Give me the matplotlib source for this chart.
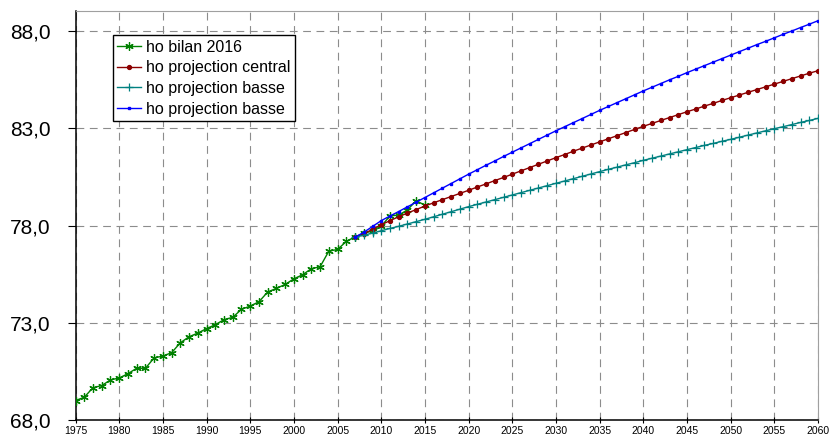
import matplotlib.pyplot as plt
from matplotlib.ticker import FuncFormatter

# ================================
# Data
# ================================
years_bilan = list(range(1975, 2016))
ho_bilan = [69.00, 69.17, 69.66, 69.77, 70.06, 70.16, 70.38, 70.66, 70.66, 71.19,
            71.29, 71.46, 71.97, 72.28, 72.47, 72.70, 72.90, 73.16, 73.28, 73.69,
            73.86, 74.08, 74.58, 74.77, 74.97, 75.26, 75.47, 75.78, 75.88, 76.68,
            76.77, 77.18, 77.42, 77.59, 77.73, 77.97, 78.49, 78.54, 78.80, 79.28,
            79.04]

years_proj = list(range(2007, 2061))
ho_central = [77.40, 77.58, 77.80, 78.04, 78.25, 78.45, 78.64, 78.82, 79.00, 79.17,
              79.33, 79.49, 79.65, 79.81, 79.98, 80.14, 80.31, 80.47, 80.64, 80.81,
              80.98, 81.15, 81.32, 81.49, 81.65, 81.82, 81.98, 82.14, 82.30, 82.46,
              82.62, 82.78, 82.94, 83.10, 83.25, 83.40, 83.55, 83.70, 83.85, 83.99,
              84.14, 84.28, 84.43, 84.57, 84.71, 84.85, 84.99, 85.13, 85.27, 85.41,
              85.55, 85.69, 85.83, 85.96]
ho_basse = [77.40, 77.50, 77.61, 77.73, 77.85, 77.96, 78.08, 78.20, 78.32, 78.45,
            78.58, 78.71, 78.84, 78.97, 79.09, 79.21, 79.33, 79.45, 79.57, 79.69,
            79.81, 79.93, 80.05, 80.17, 80.29, 80.41, 80.53, 80.65, 80.77, 80.89,
            81.00, 81.12, 81.23, 81.35, 81.46, 81.57, 81.68, 81.79, 81.90, 82.01,
            82.12, 82.22, 82.33, 82.43, 82.54, 82.65, 82.76, 82.87, 82.98, 83.08,
            83.19, 83.30, 83.40, 83.51]
ho_haute = [77.40, 77.65, 77.95, 78.25, 78.49, 78.72, 78.96, 79.20, 79.44, 79.68,
            79.92, 80.16, 80.40, 80.64, 80.87, 81.10, 81.32, 81.55, 81.77, 81.99,
            82.21, 82.43, 82.65, 82.87, 83.08, 83.29, 83.50, 83.71, 83.92, 84.12,
            84.32, 84.52, 84.72, 84.92, 85.11, 85.30, 85.49, 85.67, 85.86, 86.04,
            86.22, 86.40, 86.58, 86.76, 86.94, 87.12, 87.30, 87.47, 87.65, 87.83,
            88.00, 88.18, 88.35, 88.53]

x_ticks = list(range(1975, 2061, 5))
y_ticks = [68, 73, 78, 83, 88]

# ================================
# Plot
# ================================
plt.rcParams['font.family'] = ['Liberation Sans', 'DejaVu Sans']

fig = plt.figure(figsize=(8.3, 4.41), dpi=100)
ax = fig.add_axes([75.5 / 830, 1 - 420 / 441, (818 - 75.5) / 830, (420 - 11) / 441])

ax.plot(years_bilan, ho_bilan, color='#008000', lw=1.0, marker=(6, 2, 0),
        markersize=6, markeredgewidth=0.9, label='ho bilan 2016', zorder=3)
ax.plot(years_proj, ho_central, color='#8B0000', lw=1.0, marker='o',
        markersize=2.8, label='ho projection central', zorder=3)
ax.plot(years_proj, ho_basse, color='#008080', lw=1.0, marker='+',
        markersize=5.5, markeredgewidth=0.9, label='ho projection basse', zorder=3)
ax.plot(years_proj, ho_haute, color='#0000FF', lw=1.0, marker='s',
        markersize=1.6, label='ho projection basse', zorder=3)

ax.set_xlim(1975, 2060)
ax.set_ylim(68, 89.03)
ax.set_xticks(x_ticks)
ax.set_yticks(y_ticks)
ax.yaxis.set_major_formatter(FuncFormatter(lambda v, p: f'{v:.1f}'.replace('.', ',')))

ax.grid(True, color='#8c8c8c', linestyle=(0, (7, 5)), linewidth=0.8)
ax.set_axisbelow(True)

for side in ['top', 'right']:
    ax.spines[side].set_color('#a0a0a0')
for side in ['left', 'bottom']:
    ax.spines[side].set_color('black')
    ax.spines[side].set_linewidth(1.1)

ax.tick_params(axis='y', labelsize=15, length=6, pad=12, direction='out')
ax.tick_params(axis='x', labelsize=7.5, length=5, pad=2, direction='inout')
for lbl in ax.get_xticklabels():
    lbl.set_family(['Liberation Sans Narrow', 'Liberation Sans'])

leg = ax.legend(loc='upper left', bbox_to_anchor=(112.7 / 830, 1 - 35 / 441),
                bbox_transform=fig.transFigure, borderaxespad=0, fontsize=11.5,
                fancybox=False, framealpha=1, edgecolor='black',
                handlelength=1.45, handletextpad=0.35, labelspacing=0.35,
                borderpad=0.3)
leg.get_frame().set_linewidth(1.0)

plt.savefig('out.png', dpi=100)
plt.close()
